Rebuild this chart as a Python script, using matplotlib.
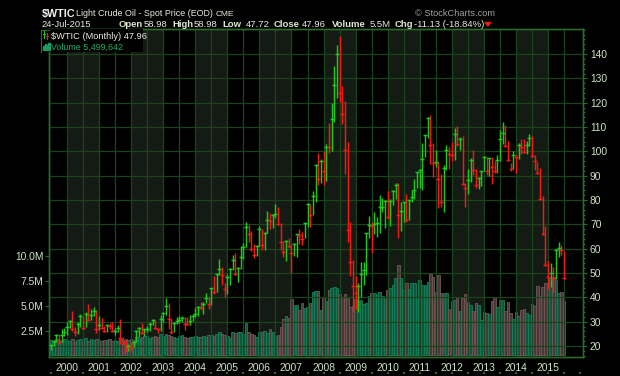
import numpy as np
import pandas as pd
import matplotlib
matplotlib.use("Agg")
import matplotlib.pyplot as plt
from matplotlib import font_manager as fm
from matplotlib.patches import Rectangle, Polygon
from matplotlib.lines import Line2D
import matplotlib.transforms as mtransforms

# ---------------- data ----------------
start_month = "1999-07"
end_month = "2015-07"

close_px = [
    20.5, 22.1, 24.5, 21.7, 24.6, 25.6,
    27.6, 30.4, 26.9, 25.7, 29.0, 32.5, 27.4, 33.1, 30.8, 32.7, 34.4, 26.8,
    28.7, 27.4, 26.3, 28.5, 28.4, 26.3, 26.3, 27.2, 23.4, 21.2, 19.4, 19.8,
    19.5, 21.7, 26.3, 27.3, 25.3, 26.9, 27.0, 28.9, 30.5, 27.2, 26.9, 31.2,
    33.5, 36.6, 31.0, 25.8, 29.6, 30.2, 30.5, 31.6, 29.2, 29.1, 30.4, 32.5,
    33.1, 36.2, 35.8, 37.4, 39.9, 37.1, 43.8, 42.1, 49.6, 51.8, 49.1, 43.5,
    48.2, 51.8, 55.4, 49.7, 52.0, 56.5, 60.6, 68.9, 66.2, 59.8, 57.3, 61.0,
    67.9, 61.4, 66.6, 71.9, 71.3, 73.9, 74.4, 70.3, 62.9, 58.7, 63.1, 61.0,
    58.1, 61.8, 65.9, 65.7, 64.0, 70.7, 78.2, 74.0, 81.7, 94.5, 88.7, 96.0,
    91.8, 101.8, 101.6, 113.5, 127.4, 140.0, 124.1, 115.5, 100.6, 67.8, 54.4, 44.6,
    41.7, 44.8, 49.7, 51.1, 66.3, 69.9, 69.4, 70.0, 70.6, 77.0, 77.3, 79.4,
    72.9, 79.7, 83.8, 86.2, 74.0, 75.6, 79.0, 71.9, 80.0, 81.4, 84.1, 91.4,
    92.2, 97.0, 106.7, 113.9, 102.7, 95.4, 95.7, 88.8, 79.2, 93.2, 100.4, 98.8,
    98.5, 107.1, 103.0, 104.9, 86.5, 85.0, 88.1, 96.5, 92.2, 86.2, 88.9, 91.8,
    97.5, 92.1, 97.2, 93.5, 92.0, 96.6, 105.0, 107.7, 102.3, 96.4, 92.7, 98.4,
    97.5, 102.6, 101.6, 99.7, 102.7, 105.4, 98.2, 96.0, 91.2, 80.5, 66.2, 53.3,
    48.2, 49.8, 47.6, 59.6, 60.3, 59.5, 47.96,
]
high_px = [
    20.8, 22.3, 25.0, 24.8, 26.9, 27.2,
    30.0, 30.8, 34.4, 28.0, 30.0, 33.0, 32.2, 33.8, 37.2, 35.0, 36.0, 34.6,
    32.2, 31.6, 28.3, 29.0, 29.4, 29.8, 27.5, 28.8, 30.9, 23.8, 22.5, 21.0,
    21.7, 21.9, 26.6, 28.0, 29.4, 27.0, 28.2, 30.0, 30.9, 30.8, 27.5, 32.7,
    34.0, 39.9, 37.8, 31.0, 30.0, 32.0, 32.4, 32.4, 31.8, 31.8, 32.7, 33.0,
    35.6, 36.6, 38.2, 37.9, 41.9, 40.0, 44.0, 48.7, 50.0, 55.7, 52.3, 46.0,
    49.5, 52.0, 57.6, 58.3, 52.5, 60.9, 62.3, 70.8, 69.8, 67.3, 62.1, 61.4,
    69.2, 68.0, 67.0, 75.4, 74.6, 74.2, 78.4, 77.0, 70.4, 63.0, 63.6, 64.2,
    61.5, 62.3, 66.2, 67.9, 66.9, 70.9, 78.8, 78.2, 83.9, 94.7, 99.3, 96.8,
    100.1, 103.0, 111.8, 119.9, 135.1, 143.7, 147.3, 126.8, 120.9, 104.0, 71.1, 55.5,
    48.6, 46.0, 54.4, 54.5, 66.5, 73.4, 71.0, 75.0, 73.0, 82.0, 81.0, 80.0,
    83.9, 80.5, 84.0, 87.2, 87.0, 79.0, 79.3, 82.4, 80.2, 84.0, 88.6, 91.5,
    92.6, 103.4, 106.9, 114.0, 114.8, 103.4, 100.6, 95.8, 90.5, 94.6, 102.6, 101.8,
    103.7, 109.8, 110.5, 106.0, 106.4, 86.9, 92.9, 97.3, 100.4, 92.9, 89.3, 91.9,
    98.0, 97.8, 97.4, 97.8, 96.0, 98.7, 108.9, 112.2, 110.7, 104.3, 95.4, 100.3,
    98.4, 103.3, 105.2, 104.9, 104.3, 107.3, 106.5, 98.6, 95.8, 93.0, 81.5, 69.3,
    55.1, 54.2, 52.5, 59.9, 62.6, 61.7, 58.98,
]
low_px = [
    18.5, 19.8, 21.8, 20.8, 21.5, 24.3,
    24.5, 27.2, 26.2, 23.9, 25.0, 28.0, 26.9, 27.6, 30.6, 30.6, 32.4, 25.2,
    26.6, 26.9, 25.6, 25.6, 27.0, 25.8, 24.5, 25.9, 21.0, 20.0, 17.5, 17.8,
    17.9, 19.4, 21.6, 23.8, 24.9, 24.3, 25.9, 26.2, 28.6, 26.8, 25.2, 26.0,
    30.0, 32.8, 26.9, 25.0, 25.7, 29.0, 29.6, 30.0, 26.5, 28.5, 28.5, 30.4,
    32.0, 32.4, 35.0, 33.3, 37.5, 35.2, 36.9, 41.5, 42.2, 49.0, 45.0, 40.3,
    41.3, 45.0, 51.2, 49.2, 46.2, 51.8, 55.9, 60.6, 62.6, 59.2, 56.3, 57.1,
    61.0, 59.3, 59.6, 66.3, 68.0, 68.3, 72.6, 69.9, 59.5, 56.6, 55.0, 60.2,
    49.9, 56.9, 56.6, 61.9, 61.4, 64.5, 69.0, 69.0, 73.8, 79.1, 86.0, 87.0,
    86.1, 88.0, 99.5, 100.3, 112.0, 122.0, 120.4, 111.3, 90.5, 62.9, 48.8, 33.9,
    35.1, 33.9, 40.3, 45.0, 49.2, 64.2, 58.3, 66.1, 65.0, 66.6, 75.0, 68.6,
    72.4, 69.5, 78.0, 80.5, 64.2, 67.2, 71.0, 70.8, 71.6, 79.0, 80.5, 85.0,
    85.0, 84.1, 97.5, 105.5, 95.0, 89.6, 93.4, 76.6, 77.1, 75.0, 92.2, 92.6,
    96.0, 96.3, 102.4, 100.7, 86.0, 77.3, 82.6, 87.6, 90.4, 84.9, 84.6, 85.6,
    91.9, 90.4, 90.0, 86.7, 91.0, 91.0, 96.0, 103.0, 101.9, 96.0, 92.1, 92.6,
    91.3, 96.9, 98.9, 99.2, 99.0, 102.0, 97.9, 92.5, 90.9, 80.0, 65.7, 52.9,
    43.6, 44.4, 42.0, 47.7, 56.5, 57.2, 47.72,
]
volume_m = [
    1.5, 1.4, 1.6, 1.5, 1.4, 1.6,
    1.5, 1.4, 1.6, 1.3, 1.5, 1.6, 1.4, 1.8, 1.4, 1.6, 1.5, 1.6,
    1.5, 1.4, 1.5, 1.5, 1.6, 1.4, 1.5, 1.4, 1.6, 1.5, 1.6, 1.5,
    1.6, 1.5, 1.9, 1.8, 1.9, 2.0, 2.0, 1.8, 1.9, 2.0, 1.9, 2.2,
    2.0, 2.2, 2.1, 2.0, 1.9, 1.8, 2.0, 2.1, 1.9, 1.8, 1.9, 1.9,
    2.0, 1.9, 1.9, 2.0, 1.9, 2.1, 2.1, 2.0, 2.2, 2.4, 2.2, 2.1,
    2.0, 1.8, 2.4, 2.3, 2.4, 2.4, 2.2, 3.3, 2.4, 2.2, 2.1, 1.9,
    2.4, 2.4, 2.5, 2.3, 2.7, 2.4, 2.0, 2.1, 2.9, 3.7, 4.0, 3.8,
    5.7, 5.1, 5.1, 4.6, 5.3, 4.8, 4.9, 5.3, 6.4, 6.5, 6.5, 4.6,
    5.9, 5.5, 6.6, 6.8, 6.9, 6.8, 6.2, 5.9, 6.2, 5.9, 4.9, 5.0,
    5.7, 5.5, 5.6, 5.2, 5.3, 6.0, 6.3, 6.3, 6.1, 6.4, 6.0, 5.7,
    6.6, 6.8, 7.1, 7.8, 9.1, 7.8, 6.6, 7.3, 6.7, 7.3, 7.3, 5.9,
    7.6, 7.1, 7.1, 7.4, 8.2, 7.9, 6.4, 8.1, 6.3, 6.3, 6.3, 4.7,
    5.5, 5.6, 5.9, 4.5, 5.8, 6.2, 5.4, 5.1, 4.5, 5.3, 5.1, 3.6,
    4.4, 4.3, 4.2, 5.5, 5.9, 4.9, 5.6, 5.6, 4.5, 5.4, 4.3, 3.7,
    4.4, 4.0, 4.6, 4.7, 4.3, 4.1, 5.2, 5.0, 7.0, 6.0, 6.9, 7.3,
    7.0, 7.8, 7.9, 7.6, 6.3, 6.4, 5.5,
]
year_ticks = list(range(2000, 2016))
price_ticks = list(range(20, 150, 10))
volume_ticks = [2.5, 5.0, 7.5, 10.0]

# ---------------- fonts ----------------
names = {f.name for f in fm.fontManager.ttflist}
if "Liberation Sans Narrow" in names:
    NARROW, NSCALE = "Liberation Sans Narrow", 1.0
else:
    NARROW, NSCALE = "Liberation Sans", 0.84
REG = "Liberation Sans" if "Liberation Sans" in names else "DejaVu Sans"

# ---------------- geometry ----------------
W, H = 620, 376
L, R, T, B = 49, 583, 29, 357

BG = "black"
BAND = "#141b14"
GRID = "#1c441c"
FRAME = "#2c6a2c"
TXT = "#e6ecdc"
AXTXT = "#cfe3c6"
UP = "#1ec81e"
DN = "#f41818"
VUP, VUP_E = "#0b5a3d", "#17805a"
VDN, VDN_E = "#4a3838", "#735858"

periods = pd.period_range(start_month, end_month, freq="M")
t = np.asarray(periods.year + (periods.month - 1) / 12.0, dtype=float)
c = np.array(close_px)
h = np.array(high_px)
lo = np.array(low_px)
v = np.array(volume_m)
prev = np.concatenate([[c[0] - 1], c[:-1]])
up = c >= prev

fig = plt.figure(figsize=(W / 100, H / 100), dpi=100, facecolor=BG)
ax_vol = fig.add_axes([L / W, 1 - B / H, (R - L) / W, (B - T) / H])
ax_vol.set_facecolor(BG)
ax_px = ax_vol.twinx()
ax_px.set_facecolor("none")

x0, x1 = 1999.439, 2016.09
ax_vol.set_xlim(x0, x1)
ax_vol.set_ylim(-0.17, 32.97)
ax_px.set_ylim(15.47, 150.3)

# alternating year bands
for yr in range(2000, 2015, 2):
    ax_vol.axvspan(yr, yr + 1, color=BAND, lw=0, zorder=0)

# volume bars
ax_vol.bar(t, v, width=1 / 12 * 0.95, color=np.where(up, VUP, VDN),
           edgecolor=np.where(up, VUP_E, VDN_E), linewidth=0.6, zorder=2)

# grid
for gx in np.arange(2000, 2015.51, 0.5):
    ax_px.axvline(gx, color=GRID, lw=0.9, zorder=1)
for gy in price_ticks:
    ax_px.axhline(gy, color=GRID, lw=0.9, zorder=1)

# price bars (HLC with close cross tick)
cols = np.where(up, UP, DN)
dx = 2.0 / 32.07
ax_px.vlines(t, lo, h, colors=cols, lw=1.05, zorder=3)
ax_px.hlines(c, t - dx, t + dx, colors=cols, lw=1.05, zorder=3)

# spines
for a in (ax_vol, ax_px):
    for s in a.spines.values():
        s.set_color(FRAME)
        s.set_linewidth(1.0)

# ticks
ax_vol.set_xticks(year_ticks)
ax_vol.set_xticklabels([str(y) for y in year_ticks])
ax_vol.tick_params(axis="x", length=0, pad=4, labelsize=7.4, labelcolor=AXTXT)
ax_vol.set_yticks(volume_ticks)
ax_vol.set_yticklabels([f"{x:.1f}M" for x in volume_ticks])
ax_vol.tick_params(axis="y", length=3, width=0.8, color=FRAME, pad=1,
                   labelsize=7.4, labelcolor=AXTXT)
ax_px.set_yticks(price_ticks)
ax_px.set_yticklabels([str(p) for p in price_ticks])
ax_px.set_yticks(np.arange(16, 151, 2), minor=True)
ax_px.tick_params(axis="y", which="major", length=3, width=0.8, color=FRAME,
                  pad=2, labelsize=7.4, labelcolor=AXTXT)
ax_px.tick_params(axis="y", which="minor", length=1.5, width=0.8, color=FRAME)
for lab in ax_vol.get_xticklabels() + ax_vol.get_yticklabels() + ax_px.get_yticklabels():
    lab.set_fontfamily(REG)

# small dots under the time axis
trans = mtransforms.blended_transform_factory(ax_vol.transData, ax_vol.transAxes)
hx = np.arange(1999.5, 2016.01, 0.5)
ax_vol.scatter(hx, np.full(hx.shape, -(373 - B) / (B - T)), s=0.8, marker="s",
               color=FRAME, transform=trans, clip_on=False, lw=0)

# ---------------- header texts ----------------
def fx(x):
    return x / W

def fy(y):
    return 1 - y / H

def ftext(x, y, s, size, color=TXT, bold=False, family=None, **kw):
    fam = family or NARROW
    sz = size * (NSCALE if fam == NARROW else 1.0)
    fig.text(fx(x), fy(y), s, fontsize=sz, color=color, family=fam,
             fontweight="bold" if bold else "normal", va="baseline", ha="left", **kw)

ftext(41.7, 16.5, "$WTIC", 9.2, color="#f2f2ea", bold=True)
ftext(76, 16.3, "Light Crude Oil - Spot Price (EOD)", 7.6)
ftext(216, 16.3, "CME", 7.2)
ftext(415, 16.3, "\u00a9 StockCharts.com", 7.9, color="#a0a0a0")

ftext(41.3, 27.3, "24-Jul-2015", 8.0)
items = [(118.3, "Open", True), (144, "58.98", False),
         (172.3, "High", True), (194, "58.98", False),
         (222.7, "Low", True), (245.7, "47.72", False),
         (274, "Close", True), (301.7, "47.96", False),
         (331.7, "Volume", True), (370, "5.5M", False),
         (395, "Chg", True), (414.3, "-11.13 (-18.84%)", False)]
for x, s, b in items:
    ftext(x, 27.3, s, 8.1, color="#dcebd2" if b else TXT, bold=b)
fig.patches.append(Polygon([[fx(485), fy(22.5)], [fx(490.8), fy(22.5)], [fx(487.9), fy(26.0)]],
                           closed=True, transform=fig.transFigure, color=DN, figure=fig))

# ---------------- legend box ----------------
fig.patches.append(Rectangle((fx(41), fy(52)), (143 - 41) / W, (52 - 29.5) / H,
                             transform=fig.transFigure, facecolor=BG,
                             edgecolor="none", figure=fig, zorder=5))
fig.add_artist(Line2D([fx(41.3), fx(41.3)], [fy(29.5), fy(52)], color=FRAME, lw=0.8,
                      transform=fig.transFigure, zorder=6))
fig.add_artist(Line2D([fx(41.3), fx(49)], [fy(29.5), fy(29.5)], color=FRAME, lw=0.8,
                      transform=fig.transFigure, zorder=6))
for (xa, ya, yb, col) in [(44, 31, 37.5, UP), (47, 32.5, 39, DN)]:
    fig.add_artist(Line2D([fx(xa), fx(xa)], [fy(ya), fy(yb)], color=col, lw=0.8,
                          transform=fig.transFigure, zorder=6))
fig.add_artist(Line2D([fx(43), fx(45)], [fy(34), fy(34)], color=UP, lw=0.8,
                      transform=fig.transFigure, zorder=6))
fig.add_artist(Line2D([fx(46), fx(48)], [fy(36), fy(36)], color=DN, lw=0.8,
                      transform=fig.transFigure, zorder=6))
for i, hh in enumerate([4, 6, 5, 7]):
    fig.patches.append(Rectangle((fx(43 + i * 1.8), fy(50)), 1.3 / W, hh / H,
                                 transform=fig.transFigure, color="#1e9a62",
                                 figure=fig, zorder=6))
fig.text(fx(50.7), fy(39.3), "$WTIC (Monthly) 47.96", fontsize=7.9 * NSCALE,
         color=TXT, family=NARROW, va="baseline", zorder=7)
fig.text(fx(51), fy(50.2), "Volume 5,499,642", fontsize=7.6 * NSCALE,
         color="#1fae6c", family=NARROW, va="baseline", zorder=7)

fig.savefig("out.png", dpi=100, facecolor=BG)
